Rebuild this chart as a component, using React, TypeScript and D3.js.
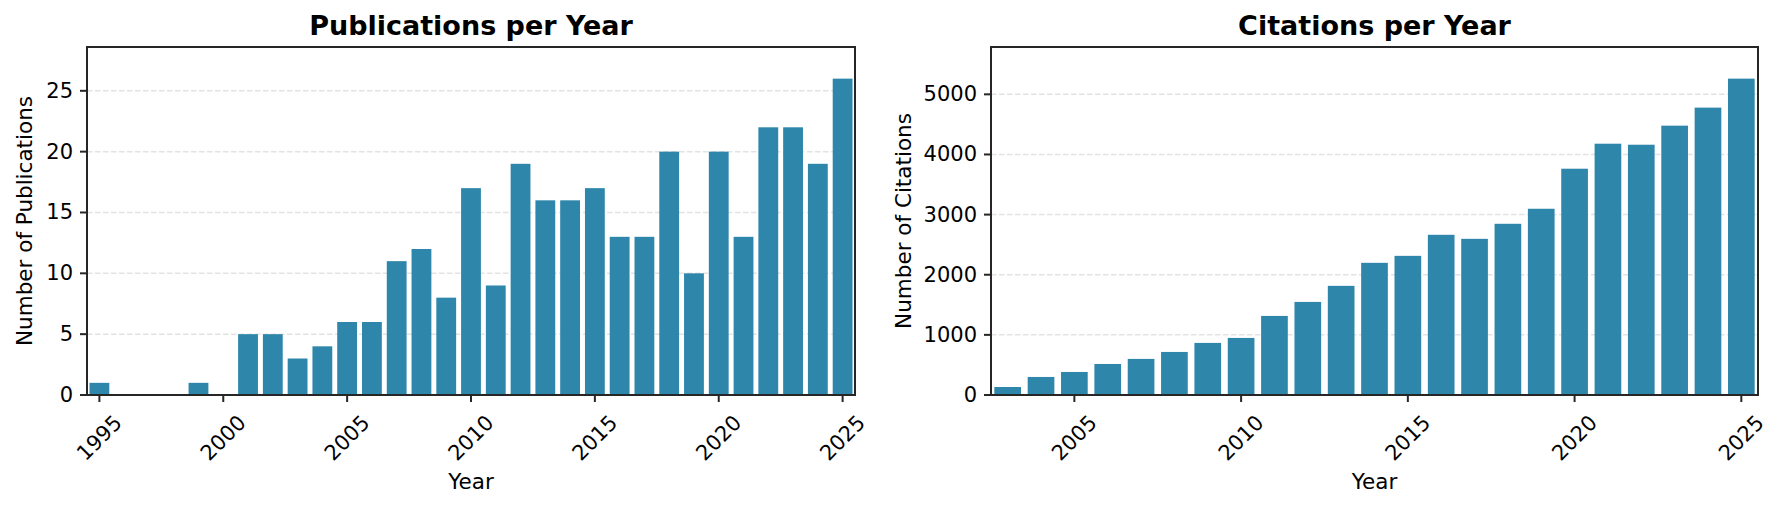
import React, { useRef, useEffect } from 'react';
import * as d3 from 'd3';

// Publications per year (years without papers are simply absent)
const pubYears = [1995, 1999, 2001, 2002, 2003, 2004, 2005, 2006, 2007, 2008, 2009, 2010, 2011, 2012, 2013, 2014, 2015, 2016, 2017, 2018, 2019, 2020, 2021, 2022, 2023, 2024, 2025];
const pubCounts = [1, 1, 5, 5, 3, 4, 6, 6, 11, 12, 8, 17, 9, 19, 16, 16, 17, 13, 13, 20, 10, 20, 13, 22, 22, 19, 26];
const pubYTicks = [0, 5, 10, 15, 20, 25];
const pubXTicks = [1995, 2000, 2005, 2010, 2015, 2020, 2025];

// Citations per year
const citeYears = [2003, 2004, 2005, 2006, 2007, 2008, 2009, 2010, 2011, 2012, 2013, 2014, 2015, 2016, 2017, 2018, 2019, 2020, 2021, 2022, 2023, 2024, 2025];
const citeCounts = [133, 300, 383, 516, 600, 716, 866, 949, 1315, 1548, 1815, 2198, 2314, 2664, 2597, 2847, 3097, 3763, 4179, 4162, 4479, 4779, 5261];
const citeYTicks = [0, 1000, 2000, 3000, 4000, 5000];
const citeXTicks = [2005, 2010, 2015, 2020, 2025];

const W = 1782;
const H = 508;
const FONT = 'DejaVu Sans';
const BAR = '#2E86AB';
const INK = '#262626';

interface PanelSpec {
  left: number;
  right: number;
  title: string;
  yLabel: string;
  yLabelX: number;
  years: number[];
  values: number[];
  yTicks: number[];
  xTicks: number[];
}

const panels: PanelSpec[] = [
  {
    left: 87, right: 855, title: 'Publications per Year', yLabel: 'Number of Publications', yLabelX: 32,
    years: pubYears, values: pubCounts, yTicks: pubYTicks, xTicks: pubXTicks,
  },
  {
    left: 991, right: 1758, title: 'Citations per Year', yLabel: 'Number of Citations', yLabelX: 911,
    years: citeYears, values: citeCounts, yTicks: citeYTicks, xTicks: citeXTicks,
  },
];

const App: React.FC = () => {
  const svgRef = useRef<SVGSVGElement>(null);

  useEffect(() => {
    if (!svgRef.current) return;
    const svg = d3.select(svgRef.current);
    svg.selectAll('*').remove();

    const top = 47;
    const bottom = 395;

    panels.forEach(p => {
      const g = svg.append('g');
      const x = d3.scaleLinear()
        .domain([d3.min(p.years)! - 0.5, d3.max(p.years)! + 0.5])
        .range([p.left, p.right]);
      const y = d3.scaleLinear()
        .domain([0, d3.max(p.values)! * 1.1])
        .range([bottom, top]);

      // grid
      g.selectAll('.grid')
        .data(p.yTicks)
        .enter()
        .append('line')
        .attr('x1', p.left)
        .attr('x2', p.right)
        .attr('y1', d => y(d))
        .attr('y2', d => y(d))
        .attr('stroke', '#e3e3e3')
        .attr('stroke-width', 1.5)
        .attr('stroke-dasharray', '5.5,2.5');

      // bars
      const bw = x(0.8) - x(0);
      g.selectAll('.bar')
        .data(p.years.map((yr, i) => ({ yr, v: p.values[i] })))
        .enter()
        .append('rect')
        .attr('x', d => x(d.yr) - bw / 2)
        .attr('y', d => y(d.v))
        .attr('width', bw)
        .attr('height', d => bottom - y(d.v))
        .attr('fill', BAR);

      // frame
      g.append('rect')
        .attr('x', p.left)
        .attr('y', top)
        .attr('width', p.right - p.left)
        .attr('height', bottom - top)
        .attr('fill', 'none')
        .attr('stroke', INK)
        .attr('stroke-width', 2);

      // y ticks
      p.yTicks.forEach(t => {
        g.append('line')
          .attr('x1', p.left - 7).attr('x2', p.left)
          .attr('y1', y(t)).attr('y2', y(t))
          .attr('stroke', INK).attr('stroke-width', 2);
        g.append('text')
          .attr('x', p.left - 14)
          .attr('y', y(t))
          .attr('text-anchor', 'end')
          .attr('dominant-baseline', 'central')
          .attr('font-family', FONT)
          .attr('font-size', '21px')
          .attr('fill', '#000')
          .text(t);
      });

      // x ticks
      p.xTicks.forEach(t => {
        g.append('line')
          .attr('x1', x(t)).attr('x2', x(t))
          .attr('y1', bottom).attr('y2', bottom + 7)
          .attr('stroke', INK).attr('stroke-width', 2);
        g.append('text')
          .attr('transform', `translate(${x(t)},${bottom + 43}) rotate(-45)`)
          .attr('text-anchor', 'middle')
          .attr('dominant-baseline', 'central')
          .attr('font-family', FONT)
          .attr('font-size', '21px')
          .attr('fill', '#000')
          .text(t);
      });

      // title
      g.append('text')
        .attr('x', (p.left + p.right) / 2)
        .attr('y', 35)
        .attr('text-anchor', 'middle')
        .attr('font-family', FONT)
        .attr('font-size', '27px')
        .attr('font-weight', 700)
        .attr('fill', '#000')
        .text(p.title);

      // x label
      g.append('text')
        .attr('x', (p.left + p.right) / 2)
        .attr('y', 489)
        .attr('text-anchor', 'middle')
        .attr('font-family', FONT)
        .attr('font-size', '21.5px')
        .attr('fill', '#000')
        .text('Year');

      // y label
      g.append('text')
        .attr('transform', `translate(${p.yLabelX},${(top + bottom) / 2}) rotate(-90)`)
        .attr('text-anchor', 'middle')
        .attr('font-family', FONT)
        .attr('font-size', '21.5px')
        .attr('fill', '#000')
        .text(p.yLabel);
    });
  }, []);

  return (
    <svg
      ref={svgRef}
      width={W}
      height={H}
      style={{ position: 'absolute', left: 0, top: 0, background: '#fff' }}
    />
  );
};

export default App;
